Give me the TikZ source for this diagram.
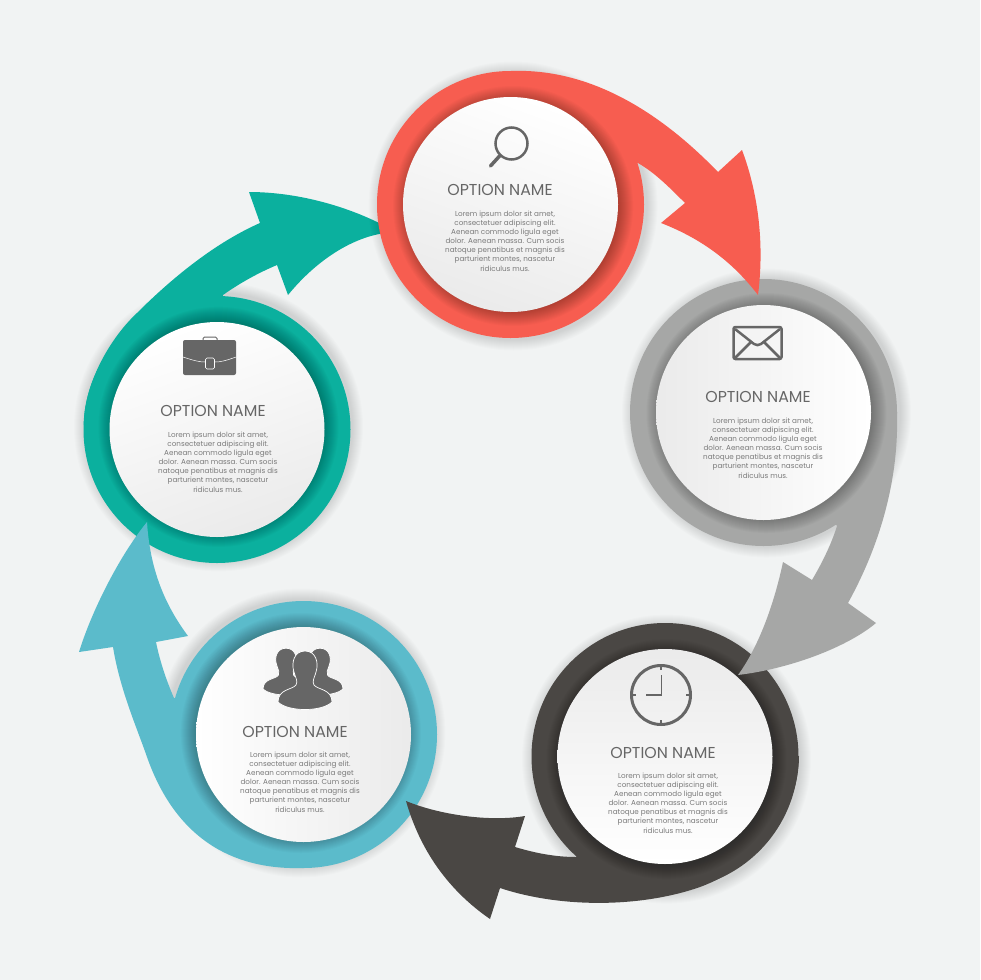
\documentclass[tikz,border=0pt]{standalone}
\usepackage{fontspec}
\setmainfont{Poppins}
\definecolor{paper}{HTML}{F1F3F3}
\definecolor{coral}{HTML}{F75D50}
\definecolor{silver}{HTML}{A6A7A6}
\definecolor{coal}{HTML}{4A4744}
\definecolor{sky}{HTML}{5BBBCB}
\definecolor{jade}{HTML}{0BB09E}
\definecolor{icongray}{HTML}{666666}
\tikzset{
	optiondisc/.style={circle, minimum size=215pt, inner sep=0pt, shade, top color=white, bottom color=black!8},
	optiontitle/.style={text=icongray, font=\fontsize{15.8}{18}\selectfont},
	optionbody/.style={text=black!52, align=center, font=\fontsize{7.2}{9.1}\selectfont},
	iconline/.style={draw=icongray, line width=2.5pt}
}
\newcommand{\optionring}[7]{
	\begin{scope}[shift={(#7:3pt)}]
		\foreach \d in {1,...,11}
			\fill [black, opacity=0.012] (#2,#3) circle [radius=133.5+\d];
	\end{scope}
	\fill [#4] #6;
	\fill [#4] (#2,#3) circle [radius=133.5];
	\begin{scope}[shift={(#7:3pt)}]
		\foreach \d in {1,...,15}
			\fill [black, opacity=0.019] (#2,#3) circle [radius=105+\d];
	\end{scope}
	\node [optiondisc, shading angle=#5] (#1) at (#2,#3) {};
}
\newcommand{\bodytext}{Lorem ipsum dolor sit amet,\\consectetuer adipiscing elit.\\Aenean commodo ligula eget\\dolor. Aenean massa. Cum socis\\natoque penatibus et magnis dis\\parturient montes, nascetur\\ridiculus mus.}

\begin{document}
\begin{tikzpicture}[x=1pt, y=-1pt]

	\fill [paper] (0,0) rectangle (980,980);
	\useasboundingbox (0,0) rectangle (980,980);

	\optionring{jadedisc}{217}{429.5}{jade}{20}{(84,425) .. controls (83,390) and (106,342) .. (137,313) .. controls (165,285) and (210,245) .. (260,223) -- (249,192) .. controls (295,192) and (345,205) .. (385,226) -- (385,233) .. controls (350,238) and (315,262) .. (288,295) -- (277,265) .. controls (258,273) and (240,283) .. (223,295) -- (217,429.5) -- cycle}{60}
	\node [optiontitle] (jadetitle) at (213,411) {OPTION NAME};
	\node [optionbody] (jadebody) at (218,462) {\bodytext};
	\fill [icongray, rounded corners=2pt] (183,340) rectangle (236,375);
	\draw [icongray, line width=1pt, rounded corners=1.5pt] (203,340) -- (203,337) -- (217,337) -- (217,340);
	\draw [white, line width=0.5pt] (183,357) .. controls (195,361) and (200,362) .. (205,362);
	\draw [white, line width=0.5pt] (215,362) .. controls (220,362) and (225,361) .. (236,357);
	\draw [white, line width=0.6pt, rounded corners=1.5pt] (205.5,358) rectangle (214.5,369);

	\optionring{skydisc}{303.5}{734.5}{sky}{90}{(303,868) .. controls (240,870) and (178,845) .. (147,757) .. controls (137,728) and (120,690) .. (113,647) -- (79,652) .. controls (92,610) and (120,555) .. (147,522) .. controls (150,570) and (165,605) .. (188,636) -- (156,642) .. controls (160,662) and (167,682) .. (174,698) -- (303.5,734.5) -- cycle}{150}
	\node [optiontitle] (skytitle) at (295,732) {OPTION NAME};
	\node [optionbody] (skybody) at (300,782) {\bodytext};
	\foreach \px/\py/\sx/\sy in {286/661/0.85/0.8, 320/661/0.85/0.8, 305/667/1/1} {
		\begin{scope}[shift={(\px,\py)}, xscale=\sx, yscale=\sy]
			\fill [icongray, draw=white, line width=0.7pt] (0,-16) .. controls (11,-16) and (14,-4) .. (11,5) .. controls (9,12) and (7,14) .. (9,18) .. controls (13,23) and (27,22) .. (27,35) .. controls (17,45) and (-17,45) .. (-27,35) .. controls (-27,22) and (-13,23) .. (-9,18) .. controls (-7,14) and (-9,12) .. (-11,5) .. controls (-14,-4) and (-11,-16) .. (0,-16) -- cycle;
		\end{scope}
	}

	\optionring{coaldisc}{665}{756.5}{coal}{180}{(799,756) .. controls (799,810) and (760,865) .. (700,887) .. controls (640,908) and (560,908) .. (500,888) -- (490,919) .. controls (448,890) and (420,850) .. (406,801) .. controls (440,815) and (490,822) .. (525,816) -- (515,847) .. controls (535,853) and (555,857) .. (576,857) -- (665,756.5) -- cycle}{-60}
	\node [optiontitle] (coaltitle) at (663,753) {OPTION NAME};
	\node [optionbody] (coalbody) at (668,803) {\bodytext};
	\draw [icongray, line width=3pt] (661,695) circle [radius=29.5];
	\draw [icongray, line width=1pt] (661,695) -- (661,675);
	\draw [icongray, line width=2pt] (661.5,695) -- (646,695);
	\foreach \a in {0,90,180,270}
		\draw [icongray, line width=2.5pt] ([shift={(\a:29pt)}]661,695) -- ([shift={(\a:25pt)}]661,695);

	\optionring{silverdisc}{763.5}{412.5}{silver}{-90}{(897,412) .. controls (899,480) and (880,545) .. (848,603) -- (876,623) .. controls (850,645) and (795,668) .. (738,675) .. controls (760,645) and (775,600) .. (783,562) -- (812,580) .. controls (822,563) and (831,545) .. (837,526) -- (763.5,412.5) -- cycle}{-10}
	\node [optiontitle] (silvertitle) at (758,397) {OPTION NAME};
	\node [optionbody] (silverbody) at (763,448) {\bodytext};
	\draw [iconline, rounded corners=2pt] (733.5,327) rectangle (781.5,359);
	\draw [iconline] (735,329) -- (754,344) .. controls (756,345.5) and (759,345.5) .. (761,344) -- (780,329);
	\draw [iconline] (735,358) -- (751,342);
	\draw [iconline] (780,358) -- (764,342);

	\optionring{coraldisc}{510.5}{204.5}{coral}{-20}{(511,71) .. controls (590,68) and (660,112) .. (718,172) -- (742,150) .. controls (757,190) and (765,240) .. (758,295) .. controls (735,265) and (705,240) .. (661,223) -- (685,203) .. controls (668,186) and (655,173) .. (638,163) -- (510.5,204.5) -- cycle}{-30}
	\node [optiontitle] (coraltitle) at (500,190) {OPTION NAME};
	\node [optionbody] (coralbody) at (505,241) {\bodytext};
	\draw [iconline] (511.5,143.5) circle [radius=16];
	\draw [icongray, line width=3.5pt, line cap=round] (500,155.5) -- (490.5,166);

\end{tikzpicture}
\end{document}
